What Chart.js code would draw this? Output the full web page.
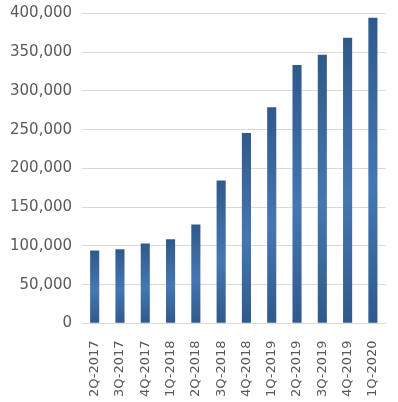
<!DOCTYPE html>
<html>
<head>
<meta charset="utf-8">
<script src="https://cdn.jsdelivr.net/npm/chart.js@4"></script>
<style>
  html, body { margin: 0; padding: 0; background: #fff; }
  #wrap { width: 398px; height: 402px; }
</style>
</head>
<body>
<div id="wrap"><canvas id="quarterChart"></canvas></div>
<script>
const quarters = ["2Q-2017", "3Q-2017", "4Q-2017", "1Q-2018", "2Q-2018", "3Q-2018",
  "4Q-2018", "1Q-2019", "2Q-2019", "3Q-2019", "4Q-2019", "1Q-2020"];
const values = [94000, 95500, 103000, 108500, 127500, 184500,
  245500, 279000, 333500, 346500, 368500, 394500];
const yTicks = [0, 50000, 100000, 150000, 200000, 250000, 300000, 350000, 400000];

const darkBlue = "#30598b";
const lightBlue = "#4577b3";

function barGradient(context) {
  const chart = context.chart;
  const { ctx, chartArea, scales } = chart;
  if (!chartArea) return darkBlue;
  const top = scales.y.getPixelForValue(context.raw);
  const bottom = scales.y.getPixelForValue(0);
  const g = ctx.createLinearGradient(0, top, 0, bottom);
  g.addColorStop(0, darkBlue);
  g.addColorStop(0.55, lightBlue);
  g.addColorStop(1, darkBlue);
  return g;
}

new Chart(document.getElementById("quarterChart"), {
  type: "bar",
  data: {
    labels: quarters,
    datasets: [{
      data: values,
      backgroundColor: barGradient,
      barPercentage: 0.36,
      categoryPercentage: 1
    }]
  },
  options: {
    responsive: true,
    maintainAspectRatio: false,
    animation: false,
    layout: { padding: { top: 2, right: 12, bottom: -4, left: 0 } },
    plugins: {
      legend: { display: false },
      tooltip: { enabled: false }
    },
    scales: {
      x: {
        grid: { display: false },
        border: { display: false },
        ticks: {
          color: "#595959",
          font: { family: "DejaVu Sans", size: 13 },
          maxRotation: 90,
          minRotation: 90,
          padding: 9
        }
      },
      y: {
        min: 0,
        max: 400000,
        afterBuildTicks: axis => { axis.ticks = yTicks.map(v => ({ value: v })); },
        grid: { color: "#d9d9d9", lineWidth: 1, drawTicks: false },
        border: { display: false },
        ticks: {
          color: "#595959",
          font: { family: "DejaVu Sans", size: 15, lineHeight: 0.45 },
          padding: 10,
          callback: v => v.toLocaleString("en-US")
        }
      }
    }
  }
});
</script>
</body>
</html>
